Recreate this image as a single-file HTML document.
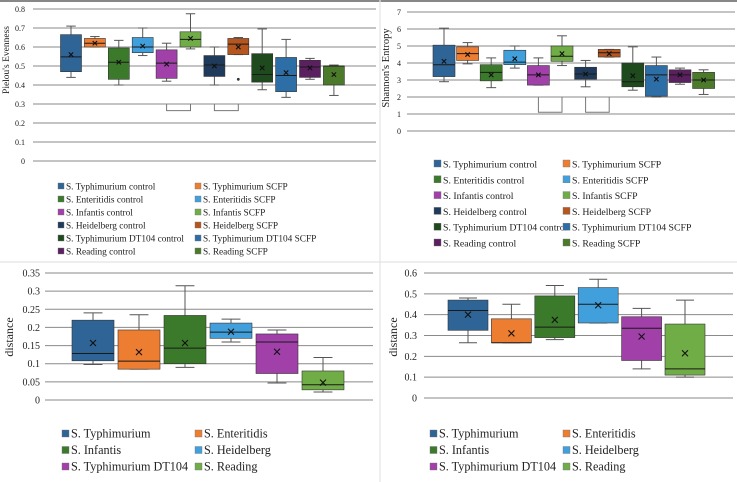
<!DOCTYPE html>
<html><head><meta charset="utf-8"><style>
body{margin:0;background:#fff;}
svg{display:block;font-family:"Liberation Serif",serif;}
</style></head><body>
<svg id="fig" width="737" height="482" viewBox="0 0 737 482">
<rect x="0" y="0" width="737" height="482" fill="#fff"/>
<rect x="0" y="0" width="737" height="2" fill="#888"/>
<line x1="380" y1="0" x2="380" y2="482" stroke="#e4e4e4" stroke-width="1.2"/>
<line x1="0" y1="262" x2="737" y2="262" stroke="#e4e4e4" stroke-width="1.2"/>
</svg>
<script>
// ---- Panel A: Pielou's evenness ----
const aCategories=["S. Typhimurium control","S. Typhimurium SCFP","S. Enteritidis control","S. Enteritidis SCFP","S. Infantis control","S. Infantis SCFP","S. Heidelberg control","S. Heidelberg SCFP","S. Typhimurium DT104 control","S. Typhimurium DT104 SCFP","S. Reading control","S. Reading SCFP"];
const aMin=[0.44,0.60,0.40,0.555,0.42,0.59,0.40,0.56,0.375,0.335,0.43,0.345];
const aQ1=[0.47,0.60,0.43,0.57,0.435,0.60,0.445,0.56,0.415,0.365,0.44,0.40];
const aMed=[0.548,0.62,0.52,0.60,0.515,0.64,0.505,0.615,0.455,0.45,0.495,0.50];
const aQ3=[0.665,0.645,0.595,0.65,0.585,0.68,0.555,0.645,0.565,0.545,0.53,0.50];
const aMax=[0.71,0.655,0.635,0.70,0.62,0.775,0.60,0.65,0.695,0.64,0.54,0.505];
const aMean=[0.56,0.62,0.52,0.605,0.51,0.645,0.50,0.60,0.49,0.465,0.49,0.455];
const aOutliers=[[],[],[],[],[],[],[],[0.43],[],[],[],[]];
const aTicks=["0","0.1","0.2","0.3","0.4","0.5","0.6","0.7","0.8"];
// ---- Panel B: Shannon entropy ----
const bMin=[2.9,3.95,2.55,3.7,2.7,3.85,2.6,4.35,2.4,2.0,2.75,2.15];
const bQ1=[3.2,4.15,2.95,3.9,2.7,4.1,3.05,4.35,2.6,2.05,2.85,2.5];
const bMed=[3.9,4.55,3.45,4.05,3.3,4.4,3.35,4.6,2.9,3.3,3.3,3.0];
const bQ3=[5.05,4.95,3.9,4.75,3.85,5.0,3.75,4.8,4.0,3.85,3.6,3.45];
const bMax=[6.05,5.2,4.3,5.0,4.3,5.6,4.15,4.8,4.95,4.35,3.7,3.6];
const bMean=[4.1,4.5,3.3,4.25,3.3,4.55,3.35,4.55,3.25,3.05,3.3,3.0];
const bTicks=["0","1","2","3","4","5","6","7"];
// ---- Panel C: distance (left) ----
const cCategories=["S. Typhimurium","S. Enteritidis","S. Infantis","S. Heidelberg","S. Typhimurium DT104","S. Reading"];
const cMin=[0.098,0.085,0.09,0.16,0.047,0.022];
const cQ1=[0.108,0.085,0.10,0.17,0.073,0.028];
const cMed=[0.128,0.107,0.143,0.187,0.16,0.042];
const cQ3=[0.22,0.193,0.233,0.212,0.182,0.08];
const cMax=[0.24,0.235,0.315,0.223,0.193,0.117];
const cMean=[0.157,0.132,0.157,0.188,0.133,0.048];
const cTicks=["0","0.05","0.1","0.15","0.2","0.25","0.3","0.35"];
// ---- Panel D: distance (right) ----
const dMin=[0.265,0.265,0.28,0.36,0.14,0.10];
const dQ1=[0.325,0.265,0.29,0.36,0.18,0.11];
const dMed=[0.42,0.265,0.34,0.45,0.335,0.14];
const dQ3=[0.47,0.38,0.49,0.53,0.39,0.355];
const dMax=[0.48,0.45,0.54,0.57,0.43,0.47];
const dMean=[0.40,0.31,0.375,0.445,0.295,0.215];
const dTicks=["0","0.1","0.2","0.3","0.4","0.5","0.6"];

const topColors=['#2e6496','#ed7d31','#3a7a2a','#41a0dc','#a040a8','#70ad47','#1f3a5a','#b5561e','#1e4a1e','#2e6ea6','#5a2060','#4a7a2a'];
const botColors=['#2e6496','#ed7d31','#3a7a2a','#41a0dc','#a040a8','#70ad47'];
const NS='http://www.w3.org/2000/svg';
const svg=document.getElementById('fig');
function mk(tag,attrs,parent){const e=document.createElementNS(NS,tag);for(const k in attrs)e.setAttribute(k,attrs[k]);(parent||svg).appendChild(e);return e;}

function panel(cfg){
  const g=mk('g',{});
  
  
  const y=v=>cfg.y0-(v-cfg.vmin)/(cfg.vmax-cfg.vmin)*(cfg.y0-cfg.y1);
  const x=i=>cfg.x0+i*cfg.step;
  cfg.ticks.forEach(t=>{
    const v=parseFloat(t),yy=y(v);
    const l=mk('line',{x1:cfg.gx0,x2:cfg.gx1,y1:yy,y2:yy,stroke:'#8a8a8a','stroke-width':1},g);
    
    
    const tx=mk('text',{x:cfg.lx,y:yy+cfg.fs*0.35,'font-size':cfg.fs,'text-anchor':'end',fill:'#222'},g);
    tx.textContent=t;
    
    
  });
  const yt=mk('text',{x:0,y:0,'font-size':cfg.tfs,'text-anchor':'middle',fill:'#222',transform:`translate(${cfg.tx},${cfg.ty}) rotate(-90)`},g);
  yt.textContent=cfg.title;
  
  
  const hw=cfg.bw/2;
  cfg.med.forEach((m,i)=>{
    const cx=x(i),col=cfg.colors[i];
    const bg=mk('g',{},g);
    
    
    mk('line',{x1:cx,x2:cx,y1:y(cfg.max[i]),y2:y(cfg.q3[i]),stroke:'#555','stroke-width':1},bg);
    mk('line',{x1:cx,x2:cx,y1:y(cfg.min[i]),y2:y(cfg.q1[i]),stroke:'#555','stroke-width':1},bg);
    mk('line',{x1:cx-hw*0.45,x2:cx+hw*0.45,y1:y(cfg.max[i]),y2:y(cfg.max[i]),stroke:'#555','stroke-width':1},bg);
    mk('line',{x1:cx-hw*0.45,x2:cx+hw*0.45,y1:y(cfg.min[i]),y2:y(cfg.min[i]),stroke:'#555','stroke-width':1},bg);
    const top=y(cfg.q3[i]),bot=y(cfg.q1[i]);
    mk('rect',{x:cx-hw,y:top,width:cfg.bw,height:Math.max(1.5,bot-top),fill:col,stroke:'#333','stroke-width':0.6},bg);
    mk('line',{x1:cx-hw,x2:cx+hw,y1:y(m),y2:y(m),stroke:'#1a1a1a','stroke-width':1},bg);
    const my=y(cfg.mean[i]),s=cfg.xs;
    mk('path',{d:`M${cx-s},${my-s}L${cx+s},${my+s}M${cx-s},${my+s}L${cx+s},${my-s}`,stroke:'#111','stroke-width':1.1,fill:'none'},bg);
    if(cfg.out&&cfg.out[i]) cfg.out[i].forEach(o=>mk('circle',{cx:cx,cy:y(o),r:1.4,fill:'#333'},bg));
  });
  if(cfg.brackets) cfg.brackets.forEach(b=>{
    const p=mk('path',{d:`M${x(b[0])},${y(b[2])}L${x(b[0])},${y(b[3])}L${x(b[1])},${y(b[3])}L${x(b[1])},${y(b[2])}`,stroke:'#777',fill:'none','stroke-width':1},g);
    
    
  });
  cfg.cats.forEach((c,i)=>{
    const col=i%2,row=Math.floor(i/2);
    const lx=cfg.legX[col],ly=cfg.legY+row*cfg.legDy;
    const lg=mk('g',{},g);
    
    
    mk('rect',{x:lx,y:ly-cfg.sq,width:cfg.sq,height:cfg.sq,fill:cfg.colors[i],stroke:'#777','stroke-width':0.4},lg);
    const t=mk('text',{x:lx+cfg.sq+2,y:ly+0.5,'font-size':cfg.lfs,fill:'#222'},lg);
    t.textContent=c;
  });
}

panel({name:'pielou-evenness-chart',vmin:0,vmax:0.8,y0:161,y1:9,x0:71,step:23.9,bw:21,gx0:33,gx1:376,lx:25,fs:8,ticks:aTicks,title:"Pielou's Evenness",tfs:9.5,tx:9,ty:60,
 min:aMin,q1:aQ1,med:aMed,q3:aQ3,max:aMax,mean:aMean,out:aOutliers,colors:topColors,xs:2.2,
 brackets:[[4,5,0.3,0.265],[6,7,0.3,0.265]],cats:aCategories,legX:[58,195],legY:189,legDy:13,sq:6,lfs:9.3});
panel({name:'shannon-entropy-chart',vmin:0,vmax:7,y0:131,y1:12,x0:444,step:23.6,bw:22,gx0:407,gx1:735,lx:401,fs:8,ticks:bTicks,title:"Shannon's Entropy",tfs:10.5,tx:389,ty:68,
 min:bMin,q1:bQ1,med:bMed,q3:bQ3,max:bMax,mean:bMean,colors:topColors,xs:2.2,
 brackets:[[4,5,2,1.1],[6,7,2,1.1]],cats:aCategories,legX:[434,563],legY:167,legDy:15.8,sq:7,lfs:9.8});
panel({name:'distance-chart-left',vmin:0,vmax:0.35,y0:400,y1:273,x0:93,step:46,bw:42,gx0:45,gx1:373,lx:40,fs:10,ticks:cTicks,title:"distance",tfs:12,tx:13,ty:337,
 min:cMin,q1:cQ1,med:cMed,q3:cQ3,max:cMax,mean:cMean,colors:botColors,xs:3,
 cats:cCategories,legX:[62,195],legY:437,legDy:16.5,sq:7,lfs:12.2});
panel({name:'distance-chart-right',vmin:0,vmax:0.6,y0:398,y1:273,x0:468,step:43.4,bw:40,gx0:424,gx1:733,lx:417,fs:10,ticks:dTicks,title:"distance",tfs:12,tx:397,ty:337,
 min:dMin,q1:dQ1,med:dMed,q3:dQ3,max:dMax,mean:dMean,colors:botColors,xs:3,
 cats:cCategories,legX:[430,563],legY:437,legDy:16.5,sq:7,lfs:12.2});
</script>
</body></html>
